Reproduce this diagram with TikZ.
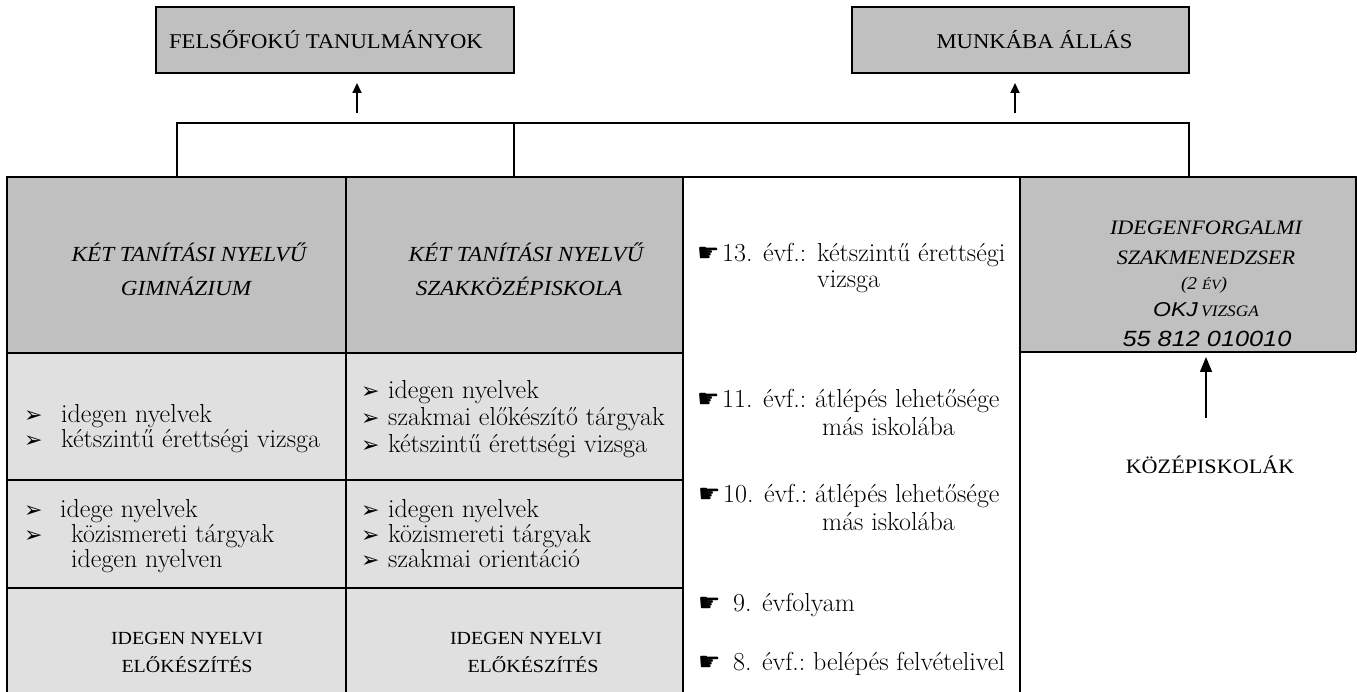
\documentclass[tikz,border=0pt]{standalone}
\usepackage{fontspec}
\newfontfamily\tnr[FakeStretch=1.08]{Liberation Serif}
\newfontfamily\arl[FakeStretch=1.15]{Liberation Sans}
\newfontfamily\dvs{DejaVu Sans}
\usetikzlibrary{arrows.meta}
\definecolor{hdrgray}{RGB}{192,192,192}
\definecolor{cellgray}{RGB}{224,224,224}
\tikzset{
  frame/.style={draw=black, line width=2pt},
  topbox/.style={frame, fill=hdrgray, minimum width=#1, minimum height=66pt, inner sep=0pt,
     font=\tnr\fontsize{21}{24}\selectfont},
  uparrow/.style={line width=2pt, -{Triangle[length=10pt,width=9pt]}},
  bigarrow/.style={line width=1.6pt, -{Triangle[length=15pt,width=12pt]}},
  body/.style={anchor=base west, inner sep=0pt, font=\fontsize{26}{28}\selectfont},
  bul/.style={anchor=base west, inner sep=0pt, font=\dvs\fontsize{22}{22}\selectfont},
  hand/.style={anchor=base west, inner sep=0pt, font=\dvs\fontsize{25}{25}\selectfont},
  ithead/.style={anchor=base, inner sep=0pt, font=\tnr\itshape\fontsize{21.5}{24}\selectfont},
  caps/.style={anchor=base, inner sep=0pt, font=\tnr\fontsize{18.5}{22}\selectfont},
}
\begin{document}
\begin{tikzpicture}[x=1pt,y=-1pt]
\useasboundingbox (0,0) rectangle (1357,692);

% ---- top boxes
\node[topbox=358pt] (fel) at (335,40) {FELSŐFOKÚ TANULMÁNYOK\hspace*{18pt}};
\node[topbox=337pt] (munka) at (1020.5,40) {\hspace*{28pt}MUNKÁBA ÁLLÁS};

% ---- arrows to top boxes
\coordinate (a1s) at (357,113); \coordinate (a1e) at (357,83);
\coordinate (a2s) at (1015,113); \coordinate (a2e) at (1015,83);
\draw[uparrow] (a1s) -- (a1e);
\draw[uparrow] (a2s) -- (a2e);

% ---- bracket
\coordinate (bl) at (177,177); \coordinate (bm) at (514,177); \coordinate (br) at (1189,177);
\coordinate (blt) at (177,123); \coordinate (bmt) at (514,123); \coordinate (brt) at (1189,123);
\draw[frame] (bl) -- (blt) -- (brt) -- (br);
\draw[frame] (bmt) -- (bm);

% ---- cell fills
\fill[hdrgray] (7,177) rectangle (683,353);
\fill[hdrgray] (1020,177) rectangle (1356,352);
\fill[cellgray] (7,353) rectangle (683,692);

% ---- table lines
\draw[frame] (6,177) -- (1357,177);
\draw[frame] (7,177) -- (7,692);
\draw[frame] (346,177) -- (346,692);
\draw[frame] (683,177) -- (683,692);
\draw[frame] (1020,177) -- (1020,692);
\draw[frame] (1356,177) -- (1356,352);
\draw[frame] (7,353) -- (683,353);
\draw[frame] (7,480) -- (683,480);
\draw[frame] (7,588) -- (683,588);
\draw[frame] (1020,352) -- (1356,352);

% ---- header cells
\node[ithead] (h1a) at (189,262) {KÉT TANÍTÁSI NYELVŰ};
\node[ithead] (h1b) at (186,296) {GIMNÁZIUM};
\node[ithead] (h2a) at (526,262) {KÉT TANÍTÁSI NYELVŰ};
\node[ithead] (h2b) at (519,296) {SZAKKÖZÉPISKOLA};

% ---- row 2
\node[bul] (b1) at (24,422) {➢}; \node[body] (t1) at (61,422) {idegen nyelvek};
\node[bul] (b2) at (24,447) {➢}; \node[body] (t2) at (61,447) {kétszintű érettségi vizsga};
\node[bul] (b3) at (361,398) {➢}; \node[body] (t3) at (388,398) {idegen nyelvek};
\node[bul] (b4) at (361,425) {➢}; \node[body] (t4) at (388,425) {szakmai előkészítő tárgyak};
\node[bul] (b5) at (361,452) {➢}; \node[body] (t5) at (388,452) {kétszintű érettségi vizsga};

% ---- row 3
\node[bul] (b6) at (24,517) {➢}; \node[body] (t6) at (60,517) {idege nyelvek};
\node[bul] (b7) at (24,542) {➢}; \node[body] (t7) at (71,542) {közismereti tárgyak};
\node[body] (t8) at (71,567) {idegen nyelven};
\node[bul] (b9) at (361,517) {➢}; \node[body] (t9) at (388,517) {idegen nyelvek};
\node[bul] (b10) at (361,542) {➢}; \node[body] (t10) at (388,542) {közismereti tárgyak};
\node[bul] (b11) at (361,567) {➢}; \node[body] (t11) at (388,567) {szakmai orientáció};

% ---- row 4
\node[caps] (e1a) at (187,644) {IDEGEN NYELVI};
\node[caps] (e1b) at (187,672) {ELŐKÉSZÍTÉS};
\node[caps] (e2a) at (526,644) {IDEGEN NYELVI};
\node[caps] (e2b) at (533,672) {ELŐKÉSZÍTÉS};

% ---- column 3
\node[hand] (p1) at (697,262) {☛}; \node[body] (c1) at (722,262) {13. évf.:};
\node[body] (c1b) at (817,262) {kétszintű érettségi};
\node[body] (c1c) at (817,288) {vizsga};
\node[hand] (p2) at (697,407) {☛}; \node[body] (c2) at (722,407) {11. évf.:};
\node[body] (c2b) at (815,407) {átlépés lehetősége};
\node[body] (c2c) at (822,435) {más iskolába};
\node[hand] (p3) at (698,502) {☛}; \node[body] (c3) at (723,502) {10. évf.:};
\node[body] (c3b) at (815,502) {átlépés lehetősége};
\node[body] (c3c) at (822,530) {más iskolába};
\node[hand] (p4) at (698,611) {☛}; \node[body] (c4) at (733,611) {9. évfolyam};
\node[hand] (p5) at (698,670) {☛}; \node[body] (c5) at (733,670) {8. évf.:};
\node[body] (c5b) at (813,670) {belépés felvételivel};

% ---- column 4
\node[ithead, font=\tnr\itshape\fontsize{20.5}{24}\selectfont] (k1) at (1206,235) {IDEGENFORGALMI};
\node[ithead, font=\tnr\itshape\fontsize{20.5}{24}\selectfont] (k2) at (1206,265) {SZAKMENEDZSER};
\node[ithead, font=\tnr\itshape\fontsize{18}{20}\selectfont] (k3) at (1204,290) {(2 {\fontsize{14}{16}\selectfont ÉV})};
\node[anchor=base, inner sep=0pt] (k4) at (1206,317) {{\arl\itshape\fontsize{20}{22}\selectfont OKJ} {\tnr\itshape\fontsize{16}{18}\selectfont VIZSGA}};
\node[anchor=base, inner sep=0pt, font=\arl\itshape\fontsize{22}{24}\selectfont] (k5) at (1207,347) {55 812 010010};

\coordinate (ks) at (1206,418); \coordinate (ke) at (1206,357);
\draw[bigarrow] (ks) -- (ke);
\node[anchor=base, inner sep=0pt, font=\tnr\fontsize{20.5}{24}\selectfont] (kozep) at (1210,473) {KÖZÉPISKOLÁK};
\end{tikzpicture}
\end{document}
